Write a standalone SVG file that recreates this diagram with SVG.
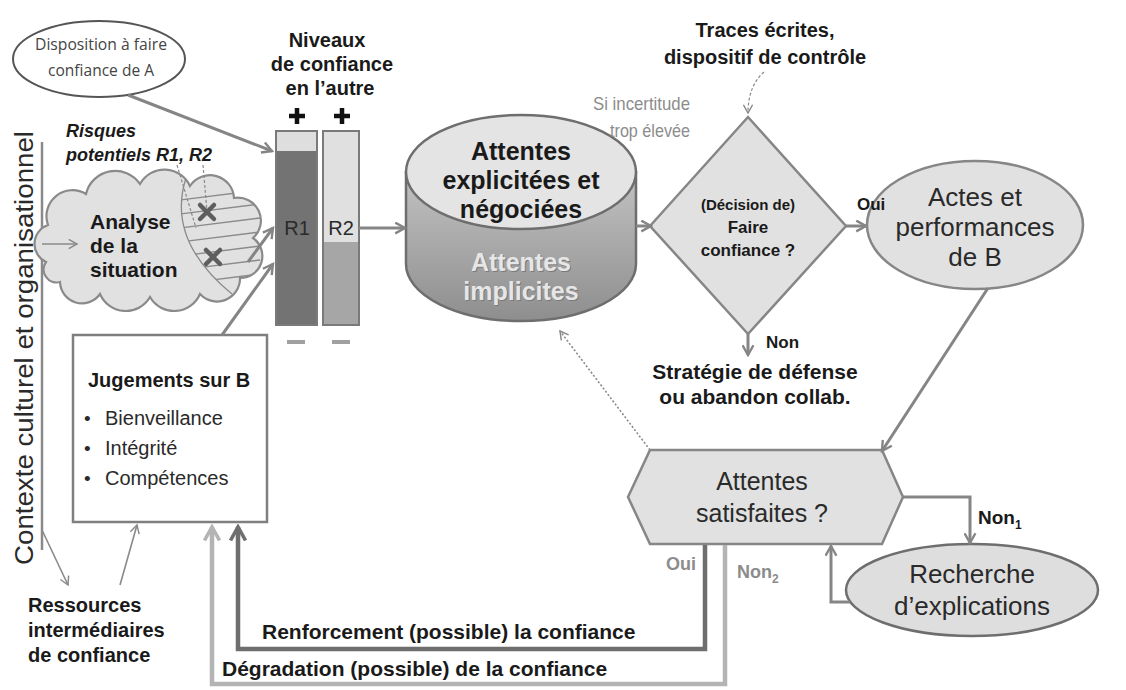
<svg xmlns="http://www.w3.org/2000/svg" width="1126" height="690" viewBox="0 0 1126 690">
  <style>
    .sans { font-family: "Liberation Sans", Arial, sans-serif; }
    .b { font-weight: bold; }
    .lbl { font-family: "Liberation Sans", Arial, sans-serif; font-weight: bold; fill: #1a1a1a; }
    .reg { font-family: "Liberation Sans", Arial, sans-serif; fill: #2a2a2a; }
    .grey { font-family: "Liberation Sans", Arial, sans-serif; fill: #8c8c8c; }
    .conn { fill: none; stroke: #858585; stroke-width: 3; }
    .thin { fill: none; stroke: #8a8a8a; stroke-width: 1.6; }
    .dash { fill: none; stroke: #8a8a8a; stroke-width: 1.2; stroke-dasharray: 3 2; }
    .shape { fill: #e1e1e1; stroke: #868686; stroke-width: 2.5; }
  </style>
  <defs>
    <marker id="arr" viewBox="0 0 12 12" refX="10" refY="6" markerWidth="13" markerHeight="13" markerUnits="userSpaceOnUse" orient="auto">
      <path d="M1,1 L10,6 L1,11" fill="none" stroke="#858585" stroke-width="2.2"/>
    </marker>
    <marker id="arrThin" viewBox="0 0 12 12" refX="10" refY="6" markerWidth="11" markerHeight="11" markerUnits="userSpaceOnUse" orient="auto">
      <path d="M1,1 L10,6 L1,11" fill="none" stroke="#8a8a8a" stroke-width="1.6"/>
    </marker>
    <marker id="arrDark" viewBox="0 0 12 12" refX="10" refY="6" markerWidth="18" markerHeight="18" markerUnits="userSpaceOnUse" orient="auto">
      <path d="M1,1 L10,6 L1,11" fill="none" stroke="#6e6e6e" stroke-width="2.4"/>
    </marker>
    <marker id="arrLight" viewBox="0 0 12 12" refX="10" refY="6" markerWidth="18" markerHeight="18" markerUnits="userSpaceOnUse" orient="auto">
      <path d="M1,1 L10,6 L1,11" fill="none" stroke="#b4b4b4" stroke-width="2.4"/>
    </marker>
    <linearGradient id="cylBody" x1="0" y1="0" x2="0" y2="1">
      <stop offset="0" stop-color="#c2c2c2"/>
      <stop offset="1" stop-color="#8e8e8e"/>
    </linearGradient>
    <clipPath id="cloudClip">
      <path d="M46,262 A20,20 0 0 1 48,225 A26,26 0 0 1 86,194 A30,30 0 0 1 140,184 A28,28 0 0 1 190,186 A24,24 0 0 1 234,198 A23,23 0 0 1 253,238 A22,22 0 0 1 240,278 A23,23 0 0 1 200,294 A28,28 0 0 1 150,297 A28,28 0 0 1 100,294 A22,22 0 0 1 60,282 A13,13 0 0 1 46,262 Z"/>
    </clipPath>
    <clipPath id="lensClip">
      <path d="M186,178 Q166,240 232,294 L300,294 L300,150 L186,150 Z"/>
    </clipPath>
  </defs>

  <!-- side context label -->
  <g id="contexte">
    <text class="reg" transform="translate(33,348) rotate(-90)" text-anchor="middle" font-size="26" fill="#111" textLength="434" lengthAdjust="spacingAndGlyphs">Contexte culturel et organisationnel</text>
    <line x1="42" y1="142" x2="42" y2="550" stroke="#8a8a8a" stroke-width="2.5"/>
  </g>

  <g id="disposition">
    <ellipse cx="99" cy="59" rx="86" ry="38" fill="#fff" stroke="#555" stroke-width="2"/>
    <text font-family="'Open Sans', sans-serif" font-size="17" fill="#444" text-anchor="middle" x="101" y="50" textLength="132" lengthAdjust="spacingAndGlyphs">Disposition à faire</text>
    <text font-family="'Open Sans', sans-serif" font-size="17" fill="#444" text-anchor="middle" x="101" y="76" textLength="106" lengthAdjust="spacingAndGlyphs">confiance de A</text>
  </g>

  <g id="niveaux">
    <text class="lbl" font-size="20" text-anchor="middle" x="327" y="47">Niveaux</text>
    <text class="lbl" font-size="20" text-anchor="middle" x="332" y="71">de confiance</text>
    <text class="lbl" font-size="20" text-anchor="middle" x="330" y="95">en l’autre</text>
    <path d="M289,116 H305 M297,108 V124 M334,116 H350 M342,108 V124" stroke="#111" stroke-width="4.5"/>
    <rect x="276" y="131" width="41" height="194" fill="#737373" stroke="#7a7a7a" stroke-width="2"/>
    <rect x="277" y="132" width="39" height="19" fill="#dedede"/>
    <rect x="323" y="131" width="36" height="194" fill="#a6a6a6" stroke="#7a7a7a" stroke-width="2"/>
    <rect x="324" y="132" width="34" height="110" fill="#e0e0e0"/>
    <text class="reg" font-size="20" text-anchor="middle" x="297" y="235" fill="#1a1a1a">R1</text>
    <text class="reg" font-size="20" text-anchor="middle" x="341" y="235" fill="#1a1a1a">R2</text>
    <path d="M287,342 H305 M332,342 H350" stroke="#a0a0a0" stroke-width="4"/>
  </g>

  <g id="risques">
    <text class="lbl" font-size="18" font-style="italic" x="66" y="137">Risques</text>
    <text class="lbl" font-size="18" font-style="italic" x="66" y="161">potentiels R1, R2</text>
  </g>

  <g id="analyse">
    <path d="M46,262 A20,20 0 0 1 48,225 A26,26 0 0 1 86,194 A30,30 0 0 1 140,184 A28,28 0 0 1 190,186 A24,24 0 0 1 234,198 A23,23 0 0 1 253,238 A22,22 0 0 1 240,278 A23,23 0 0 1 200,294 A28,28 0 0 1 150,297 A28,28 0 0 1 100,294 A22,22 0 0 1 60,282 A13,13 0 0 1 46,262 Z" fill="#e1e1e1" stroke="#8a8a8a" stroke-width="2.2"/>
    <g clip-path="url(#cloudClip)">
      <g clip-path="url(#lensClip)" stroke="#8a8a8a" stroke-width="1.3">
        <path d="M180,200 L260,190 M180,214 L260,204 M180,228 L260,218 M180,242 L260,232 M180,256 L260,246 M180,270 L260,260 M180,284 L260,274"/>
      </g>
      <path d="M186,178 Q166,240 232,294" fill="none" stroke="#8a8a8a" stroke-width="1.3"/>
    </g>
    <path d="M177,165 L196,228 M203,165 L207,212" class="dash"/>
    <path d="M200,205 L214,219 M214,205 L200,219" stroke="#5e5e5e" stroke-width="4.5" stroke-linecap="round"/>
    <path d="M206,250 L220,264 M220,250 L206,264" stroke="#5e5e5e" stroke-width="4.5" stroke-linecap="round"/>
    <text class="lbl" font-size="21" x="90" y="229">Analyse</text>
    <text class="lbl" font-size="21" x="90" y="253">de la</text>
    <text class="lbl" font-size="21" x="90" y="277">situation</text>
  </g>

  <g id="jugements">
    <rect x="73" y="335" width="194" height="187" fill="#fff" stroke="#7f7f7f" stroke-width="2.5"/>
    <text class="lbl" font-size="20" x="88" y="387" fill="#222">Jugements sur B</text>
    <text class="reg" font-size="19" x="84" y="425" fill="#333">•</text>
    <text class="reg" font-size="19" x="84" y="455" fill="#333">•</text>
    <text class="reg" font-size="19" x="84" y="485" fill="#333">•</text>
    <text class="reg" font-size="20" x="105" y="425" fill="#333">Bienveillance</text>
    <text class="reg" font-size="20" x="105" y="455" fill="#333">Intégrité</text>
    <text class="reg" font-size="20" x="105" y="485" fill="#333">Compétences</text>
  </g>

  <g id="ressources">
    <text class="lbl" font-size="20" x="28" y="612">Ressources</text>
    <text class="lbl" font-size="20" x="28" y="637">intermédiaires</text>
    <text class="lbl" font-size="20" x="28" y="662">de confiance</text>
  </g>

  <g id="attentes-cylindre">
    <path d="M406,172 V264 A115,57 0 0 0 636,264 V172 Z" fill="url(#cylBody)" stroke="#6e6e6e" stroke-width="2.5"/>
    <ellipse cx="521" cy="172" rx="115" ry="57" fill="#e4e4e4" stroke="#6e6e6e" stroke-width="2.5"/>
    <text class="lbl" font-size="25" text-anchor="middle" x="521" y="160">Attentes</text>
    <text class="lbl" font-size="25" text-anchor="middle" x="521" y="189">explicitées et</text>
    <text class="lbl" font-size="25" text-anchor="middle" x="521" y="218">négociées</text>
    <text class="sans b" font-size="25" text-anchor="middle" x="522" y="272" fill="#7a7a7a">Attentes</text>
    <text class="sans b" font-size="25" text-anchor="middle" x="522" y="301" fill="#7a7a7a">implicites</text>
    <text class="sans b" font-size="25" text-anchor="middle" x="521" y="271" fill="#e6e6e6">Attentes</text>
    <text class="sans b" font-size="25" text-anchor="middle" x="521" y="300" fill="#e6e6e6">implicites</text>
  </g>

  <g id="traces">
    <text class="lbl" font-size="20" text-anchor="middle" x="765" y="37">Traces écrites,</text>
    <text class="lbl" font-size="20" text-anchor="middle" x="765" y="64">dispositif de contrôle</text>
  </g>

  <g id="incertitude">
    <text class="grey" font-size="19" text-anchor="end" x="690" y="110" textLength="97" lengthAdjust="spacingAndGlyphs">Si incertitude</text>
    <text class="grey" font-size="19" text-anchor="end" x="690" y="137" textLength="80" lengthAdjust="spacingAndGlyphs">trop élevée</text>
  </g>

  <g id="decision">
    <polygon points="650,226 748,117 846,226 748,334" class="shape" stroke="#8a8a8a"/>
    <text class="lbl" font-size="15" text-anchor="middle" x="748" y="210" fill="#3a3a3a">(Décision de)</text>
    <text class="lbl" font-size="17" text-anchor="middle" x="748" y="233" fill="#3a3a3a">Faire</text>
    <text class="lbl" font-size="17" text-anchor="middle" x="748" y="256" fill="#3a3a3a">confiance ?</text>
  </g>

  <g id="actes">
    <ellipse cx="975" cy="225" rx="108" ry="64" class="shape" stroke="#8a8a8a"/>
    <text class="reg" font-size="26" text-anchor="middle" x="975" y="206" fill="#222">Actes et</text>
    <text class="reg" font-size="26" text-anchor="middle" x="975" y="236" fill="#222">performances</text>
    <text class="reg" font-size="26" text-anchor="middle" x="975" y="266" fill="#222">de B</text>
  </g>

  <g id="strategie">
    <text class="lbl" font-size="21" text-anchor="middle" x="755" y="379">Stratégie de défense</text>
    <text class="lbl" font-size="21" text-anchor="middle" x="755" y="404">ou abandon collab.</text>
  </g>

  <g id="satisfaites">
    <polygon points="628,497 650,450 882,450 903,497 882,544 650,544" class="shape" stroke="#7a7a7a"/>
    <text class="reg" font-size="25" text-anchor="middle" x="762" y="490" fill="#222">Attentes</text>
    <text class="reg" font-size="25" text-anchor="middle" x="762" y="522" fill="#222">satisfaites ?</text>
  </g>

  <g id="recherche">
    <ellipse cx="972" cy="590" rx="126" ry="46" fill="#dedede" stroke="#6e6e6e" stroke-width="2.5"/>
    <text class="reg" font-size="26" text-anchor="middle" x="972" y="583" fill="#222">Recherche</text>
    <text class="reg" font-size="26" text-anchor="middle" x="972" y="615" fill="#222">d’explications</text>
  </g>

  <g id="connecteurs">
    <path class="conn" stroke-width="2.2" d="M128,95 L272,151" marker-end="url(#arr)"/>
    <path class="thin" d="M42,244 L77,244" marker-end="url(#arrThin)"/>
    <path class="conn" d="M248,262 L273,228" marker-end="url(#arr)"/>
    <path class="conn" d="M222,335 L273,264" marker-end="url(#arr)"/>
    <path class="conn" d="M359,228 L405,228" marker-end="url(#arr)"/>
    <path class="conn" d="M636,226 L651,226" marker-end="url(#arr)"/>
    <path class="dash" d="M764,72 Q748,86 748,113" marker-end="url(#arrThin)"/>
    <path class="conn" d="M846,226 L866,226" marker-end="url(#arr)"/>
    <path class="conn" d="M748,334 L748,355" marker-end="url(#arr)"/>
    <path class="conn" d="M988,288 L882,451" marker-end="url(#arr)"/>
    <path class="conn" d="M903,497 H970 V543" marker-end="url(#arr)"/>
    <path class="conn" d="M850,602 H831 V546" marker-end="url(#arr)"/>
    <path class="thin" stroke-width="1" stroke-dasharray="2 2" d="M650,450 L560,331" marker-end="url(#arrThin)"/>
    <path class="thin" d="M42,530 L68,585" marker-end="url(#arrThin)"/>
    <path class="thin" d="M120,585 L137,525" marker-end="url(#arrThin)"/>
    <path fill="none" stroke="#b4b4b4" stroke-width="4.5" d="M725,545 V684 H212 V527" marker-end="url(#arrLight)"/>
    <path fill="none" stroke="#6e6e6e" stroke-width="4.5" d="M705,545 V649 H238 V527" marker-end="url(#arrDark)"/>
  </g>

  <g id="etiquettes">
    <text class="lbl" font-size="17" x="857" y="210">Oui</text>
    <text class="lbl" font-size="17" x="766" y="348">Non</text>
    <text class="lbl" font-size="19" x="978" y="524">Non<tspan font-size="12" dy="5">1</tspan></text>
    <text class="grey b" font-size="18" text-anchor="end" x="696" y="570">Oui</text>
    <text class="grey b" font-size="18" x="737" y="578">Non<tspan font-size="12" dy="5">2</tspan></text>
    <text class="lbl" font-size="21" x="262" y="639">Renforcement (possible) la confiance</text>
    <text class="lbl" font-size="21" x="222" y="676">Dégradation (possible) de la confiance</text>
  </g>
</svg>
